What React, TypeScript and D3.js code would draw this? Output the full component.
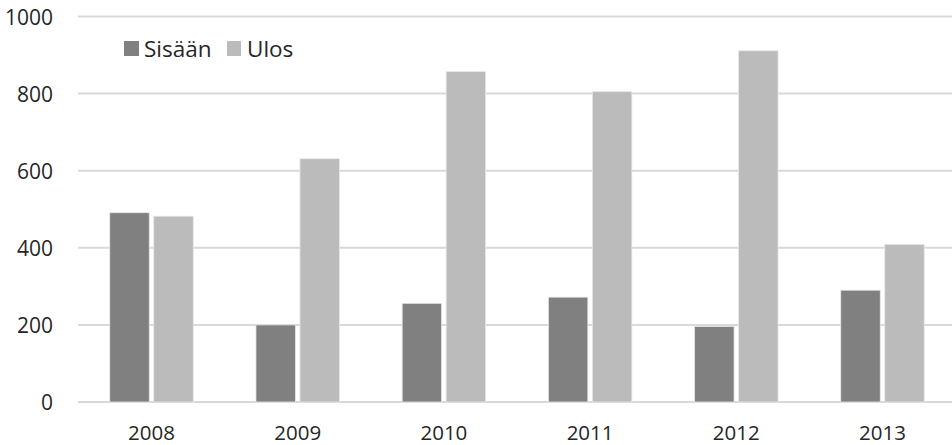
import React from "react";
import * as d3 from "d3";

const years = ["2008", "2009", "2010", "2011", "2012", "2013"];
const seriesNames = ["Sisään", "Ulos"];
const sisaan = [491, 200, 256, 272, 196, 290];
const ulos = [482, 631, 857, 805, 911, 409];
const yTicks = [0, 200, 400, 600, 800, 1000];
const colors = ["#808080", "#bbbbbb"];

const W = 952;
const H = 445;
const FONT = "'Open Sans', 'DejaVu Sans', sans-serif";

export default function App() {
  const x0 = d3.scaleBand<string>().domain(years).range([78.4, 955.6]).padding(0);
  const x1 = d3.scaleBand<string>().domain(seriesNames).range([-41.75, 41.75]).paddingInner(0.102).paddingOuter(0);
  const y = d3.scaleLinear().domain([0, 1000]).range([402, 16.5]);
  const values = [sisaan, ulos];

  return (
    <svg width={W} height={H} style={{ position: "absolute", left: 0, top: 0, background: "#fff" }} fontFamily={FONT}>
      {yTicks.map((t) => (
        <g key={t}>
          <line x1={78} x2={W} y1={y(t)} y2={y(t)} stroke="#d9d9d9" strokeWidth={2} />
          <text x={53} y={y(t)} textAnchor="end" dominantBaseline="central" fontSize={21} fill="#262626">
            {t}
          </text>
        </g>
      ))}
      {years.map((yr, i) => {
        const cx = (x0(yr) as number) + x0.bandwidth() / 2;
        return (
          <g key={yr}>
            {seriesNames.map((s, si) => {
              const v = values[si][i];
              return (
                <rect
                  key={s}
                  x={cx + (x1(s) as number)}
                  y={y(v)}
                  width={x1.bandwidth()}
                  height={y(0) - y(v)}
                  fill={colors[si]}
                  stroke="#e8e8e8"
                  strokeWidth={0.8}
                />
              );
            })}
            <text x={cx} y={440} textAnchor="middle" fontSize={20.5} fill="#262626">
              {yr}
            </text>
          </g>
        );
      })}
      <g>
        <rect x={124} y={41} width={15} height={15} fill={colors[0]} />
        <text x={144} y={48.5} dominantBaseline="central" fontSize={22.5} fill="#262626">
          {seriesNames[0]}
        </text>
        <rect x={227} y={41} width={14} height={15} fill={colors[1]} />
        <text x={247} y={48.5} dominantBaseline="central" fontSize={22.5} fill="#262626">
          {seriesNames[1]}
        </text>
      </g>
    </svg>
  );
}
